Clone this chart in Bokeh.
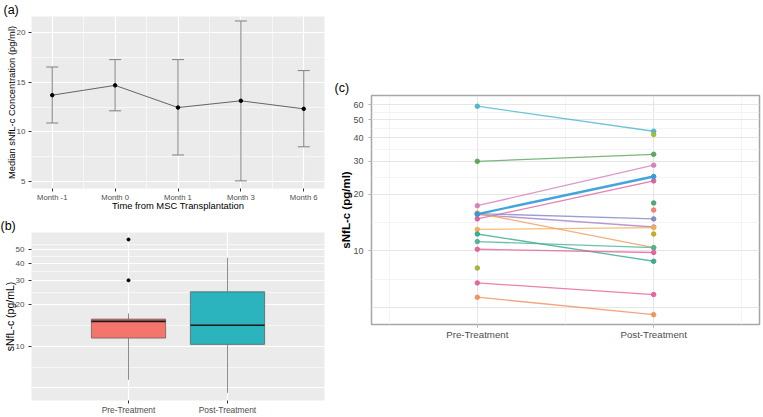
import math
import numpy as np
from bokeh.plotting import figure
from bokeh.models import (ColumnDataSource, Whisker, TeeHead, FixedTicker,
                          Grid, PrintfTickFormatter)
from bokeh.layouts import row, column
from bokeh.embed import file_html
from bokeh.resources import INLINE

FONT = "Liberation Sans"
NAN = float("nan")

# ---------------- Panel (a) data ----------------
months = ["Month -1", "Month 0", "Month 1", "Month 3", "Month 6"]
median_conc = [13.71, 14.70, 12.46, 13.14, 12.33]
lower_conc = [10.90, 12.13, 7.67, 5.06, 8.50]
upper_conc = [16.55, 17.30, 17.30, 21.20, 16.19]
a_yticks = [5, 10, 15, 20]
a_yminor = [7.5, 12.5, 17.5]

# ---------------- Panel (b) data ----------------
groups = ["Pre-Treatment", "Post-Treatment"]
box_low = [5.73, 4.61]
box_q1 = [11.47, 10.33]
box_median = [15.15, 14.2]
box_q3 = [15.74, 24.8]
box_high = [17.3, 43.6]
box_fill = ["#F3756C", "#2BB3BE"]
outlier_group = [0, 0]
outlier_val = [59.2, 30.0]
b_yticks = [10, 20, 30, 40, 50]

# ---------------- Panel (c) data ----------------
pre_vals = [59.0, 30.0, 17.4, 15.7, 14.8, 15.8, 15.6, 13.0, 15.9, 12.3, 11.2, 10.2, 6.75, 5.66,
            8.1, NAN, NAN, NAN, NAN]
post_vals = [43.4, 32.7, 28.6, 24.9, 23.6, 14.8, 13.4, 13.3, 10.4, 8.8, 10.4, 9.8, 5.85, 4.57,
             NAN, 41.7, 18.0, 16.5, 12.3]
subject_colors = ["#4BB6CC", "#5AA55A", "#D57DBA", "#2A9BD8", "#DC5E9E", "#8088C4", "#A57FC4",
                  "#F2AE55", "#EE9B5A", "#35A88F", "#4AB09A", "#E5609A", "#E3629A", "#F0905C",
                  "#A8B02C", "#9DB83A", "#45A86A", "#F27A76", "#C0A828"]
c_yticks = [10, 20, 30, 40, 50, 60]

log_minor = [7.07, 14.14, 24.49, 34.64, 44.72, 54.77]

TICK_GREY = "#4D4D4D"
PANEL_GREY = "#EBEBEB"


def style_ggplot_grey(p):
    p.background_fill_color = PANEL_GREY
    p.border_fill_color = "white"
    p.outline_line_color = None
    for ax in (p.xaxis, p.yaxis):
        ax.axis_line_color = None
        ax.major_tick_line_color = "#333333"
        ax.major_tick_out = 3
        ax.major_tick_in = 0
        ax.minor_tick_line_color = None
        ax.major_label_text_font = FONT
        ax.major_label_text_color = TICK_GREY
        ax.axis_label_text_font = FONT
        ax.axis_label_text_font_style = "normal"
        ax.axis_label_text_color = "black"
    p.xgrid.grid_line_color = "white"
    p.ygrid.grid_line_color = "white"
    p.xgrid.grid_line_width = 1.2
    p.ygrid.grid_line_width = 1.2
    p.xgrid.minor_grid_line_color = "white"
    p.ygrid.minor_grid_line_color = "white"
    p.xgrid.minor_grid_line_width = 0.6
    p.ygrid.minor_grid_line_width = 0.6


def tag_title(p, text, offset):
    p.title.text = text
    p.title.text_font = FONT
    p.title.text_font_size = "12.5px"
    p.title.text_font_style = "normal"
    p.title.text_color = "black"
    p.title.align = "left"
    p.title.offset = offset
    p.title.standoff = 0


# ======================= Panel (a) =======================
xa = np.arange(1, len(months) + 1)
pa = figure(width=335, height=216, x_range=(0.67, 5.33), y_range=(4.29, 21.65),
            output_backend="svg", toolbar_location=None,
            min_border_left=27, min_border_right=10, min_border_top=13, min_border_bottom=28)
style_ggplot_grey(pa)
tag_title(pa, "(a)", -28)
pa.xaxis.ticker = FixedTicker(ticks=list(xa), minor_ticks=list(xa[:-1] + 0.5))
pa.xaxis.major_label_overrides = {int(i): m for i, m in zip(xa, months)}
pa.yaxis.ticker = FixedTicker(ticks=a_yticks, minor_ticks=a_yminor)
pa.xaxis.major_label_text_font_size = "7.7px"
pa.yaxis.major_label_text_font_size = "8px"
pa.xaxis.major_label_standoff = 0
pa.yaxis.major_label_standoff = 2
pa.xaxis.axis_label = "Time from MSC Transplantation"
pa.yaxis.axis_label = "Median sNfL-c Concentration (pg/ml)"
pa.xaxis.axis_label_text_font_size = "9.4px"
pa.yaxis.axis_label_text_font_size = "9.4px"
pa.xaxis.axis_label_standoff = -5
pa.yaxis.axis_label_standoff = -3

src_a = ColumnDataSource(dict(x=xa, med=median_conc, lo=lower_conc, hi=upper_conc))
wh = Whisker(base="x", lower="lo", upper="hi", source=src_a, line_color="#808080", line_width=1,
             upper_head=TeeHead(size=12, line_color="#808080", line_width=1),
             lower_head=TeeHead(size=12, line_color="#808080", line_width=1))
pa.add_layout(wh)
pa.line("x", "med", source=src_a, line_color="#555555", line_width=0.9)
pa.scatter("x", "med", source=src_a, size=3.5, color="black")

# ======================= Panel (b) =======================
xb = np.arange(1, len(groups) + 1)
pb = figure(width=335, height=201, x_range=(0.02, 2.98), y_range=(4.06, 66.5), y_axis_type="log",
            output_backend="svg", toolbar_location=None,
            min_border_left=30, min_border_right=11, min_border_top=13, min_border_bottom=14)
style_ggplot_grey(pb)
tag_title(pb, "(b)", -31)
pb.xaxis.ticker = FixedTicker(ticks=list(xb))
pb.xaxis.major_label_overrides = {int(i): g for i, g in zip(xb, groups)}
pb.yaxis.ticker = FixedTicker(ticks=b_yticks, minor_ticks=log_minor)
pb.yaxis.formatter = PrintfTickFormatter(format="%d")
pb.xaxis.major_label_text_font_size = "8.4px"
pb.yaxis.major_label_text_font_size = "8px"
pb.xaxis.major_label_standoff = 1
pb.yaxis.major_label_standoff = 3
pb.yaxis.axis_label = "sNfL-c (pg/mL)"
pb.yaxis.axis_label_text_font_size = "10.5px"
pb.yaxis.axis_label_standoff = -3
pb.add_layout(Grid(dimension=1, ticker=FixedTicker(ticks=[5]), grid_line_color="white",
                   grid_line_width=1.2))

bw = 0.75
src_b = ColumnDataSource(dict(x=xb, low=box_low, q1=box_q1, med=box_median, q3=box_q3,
                              high=box_high, fill=box_fill,
                              left=xb - bw / 2, right=xb + bw / 2))
pb.segment("x", "q3", "x", "high", source=src_b, line_color="#8C8C8C", line_width=1)
pb.segment("x", "q1", "x", "low", source=src_b, line_color="#8C8C8C", line_width=1)
pb.vbar(x="x", width=bw, top="q3", bottom="q1", source=src_b, fill_color="fill",
        line_color="#4D4D4D", line_alpha=0.7, line_width=0.9)
pb.segment("left", "med", "right", "med", source=src_b, line_color="#1A1A1A", line_width=1.6)
pb.scatter(x=[int(xb[g]) for g in outlier_group], y=outlier_val, size=3, color="black")

# ======================= Panel (c) =======================
xc = np.arange(1, len(groups) + 1)
pc = figure(width=428, height=417, x_range=(0.4, 2.6), y_range=(4.05, 67.3), y_axis_type="log",
            output_backend="svg", toolbar_location=None,
            min_border_left=36, min_border_right=4, min_border_top=95, min_border_bottom=93)
tag_title(pc, "(c)", -37)
pc.title.standoff = 1
pc.background_fill_color = "white"
pc.border_fill_color = "white"
pc.outline_line_color = "#A6A6A6"
pc.outline_line_width = 1.5
for ax in (pc.xaxis, pc.yaxis):
    ax.axis_line_color = None
    ax.major_tick_line_color = "#B3B3B3"
    ax.major_tick_out = 3
    ax.major_tick_in = 0
    ax.minor_tick_line_color = None
    ax.major_label_text_font = FONT
    ax.major_label_text_color = TICK_GREY
    ax.axis_label_text_font = FONT
pc.xaxis.ticker = FixedTicker(ticks=list(xc), minor_ticks=[0.5, 1.5, 2.5])
pc.xaxis.major_label_overrides = {int(i): g for i, g in zip(xc, groups)}
pc.yaxis.ticker = FixedTicker(ticks=c_yticks, minor_ticks=log_minor)
pc.yaxis.formatter = PrintfTickFormatter(format="%d")
pc.xaxis.major_label_text_font_size = "9.7px"
pc.yaxis.major_label_text_font_size = "9px"
pc.xaxis.major_label_standoff = 0
pc.yaxis.major_label_standoff = 4
pc.yaxis.axis_label = "sNfL-c (pg/ml)"
pc.yaxis.axis_label_text_font_size = "11.5px"
pc.yaxis.axis_label_text_font_style = "bold"
pc.yaxis.axis_label_text_color = "black"
pc.yaxis.axis_label_standoff = -2
for g in (pc.xgrid, pc.ygrid):
    g.grid_line_color = "#E6E6E6"
    g.grid_line_width = 1
    g.minor_grid_line_color = "#F1F1F1"
    g.minor_grid_line_width = 0.8
pc.add_layout(Grid(dimension=1, ticker=FixedTicker(ticks=[5]), grid_line_color="#E6E6E6",
                   grid_line_width=1))

thick_idx = 3
order = [i for i in range(len(pre_vals)) if i != thick_idx] + [thick_idx]
for i in order:
    a, b = pre_vals[i], post_vals[i]
    if not (math.isnan(a) or math.isnan(b)):
        pc.line(x=list(xc), y=[a, b], line_color=subject_colors[i],
                line_width=2.4 if i == thick_idx else 1.3,
                line_alpha=0.9 if i == thick_idx else 0.8)
for i in order:
    for xi, v in zip(xc, (pre_vals[i], post_vals[i])):
        if not math.isnan(v):
            pc.scatter(x=[int(xi)], y=[v], size=4.5, color=subject_colors[i], alpha=0.95)

layout = row(column(pa, pb), pc)

open("out.html", "w").write(file_html(layout, INLINE))
